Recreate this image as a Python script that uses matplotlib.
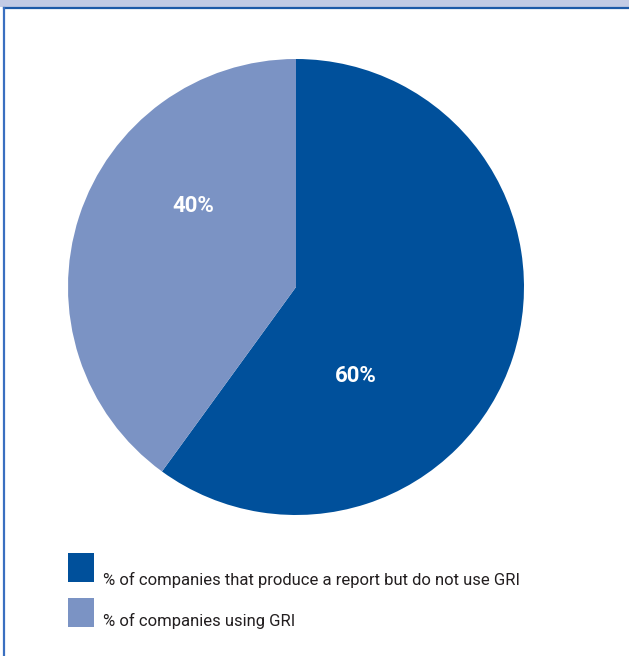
import matplotlib.pyplot as plt
from matplotlib.patches import Rectangle
from matplotlib.lines import Line2D

# data
labels = ['% of companies that produce a report but do not use GRI',
          '% of companies using GRI']
shares = [60, 40]
colors = ['#00509b', '#7b93c4']
pct_labels = ['60%', '40%']

W, H = 629, 656
fig = plt.figure(figsize=(W / 100, H / 100), dpi=100)
fig.patch.set_facecolor('white')

# frame: light band on top, blue rule under it, blue rule on the left
fig.add_artist(Rectangle((0, 1 - 7 / H), 1, 7 / H, transform=fig.transFigure,
                         facecolor='#c3cbe5', edgecolor='none'))
fig.add_artist(Line2D([4 / W, 1], [1 - 8 / H, 1 - 8 / H], transform=fig.transFigure,
                      color='#1e5aa8', lw=1.6))
fig.add_artist(Line2D([4 / W, 4 / W], [0, 1 - 8 / H], transform=fig.transFigure,
                      color='#3a6fc0', lw=1.6))

# pie, centre (296, 287) px, radius 228 px
cx, cy, r = 296, 287, 228
ax = fig.add_axes([(cx - r) / W, (H - cy - r) / H, 2 * r / W, 2 * r / H])
wedges, _ = ax.pie(shares, colors=colors, startangle=90, counterclock=False,
                   radius=1, wedgeprops=dict(linewidth=0))
ax.set_xlim(-1, 1)
ax.set_ylim(-1, 1)
ax.set_aspect('equal')
ax.axis('off')

# percentage labels (pixel positions converted to data units)
lab_pos = [(355.5, 376), (193, 206)]
for txt, (px, py) in zip(pct_labels, lab_pos):
    ax.text((px - cx) / r, (cy - py) / r, txt, color='white', fontsize=16,
            fontweight='bold', ha='center', va='center', family='Roboto')

# legend drawn by hand
sq_top = [553, 598]
baselines = [585, 626]
for lab, col, top, base in zip(labels, colors, sq_top, baselines):
    fig.add_artist(Rectangle((68 / W, 1 - (top + 29) / H), 26 / W, 29 / H,
                             transform=fig.transFigure, facecolor=col,
                             edgecolor='none'))
    fig.text(103 / W, 1 - base / H, lab, fontsize=12, color='#231f20',
             ha='left', va='baseline', family='Roboto')

fig.savefig('out.png', dpi=100, facecolor='white')
